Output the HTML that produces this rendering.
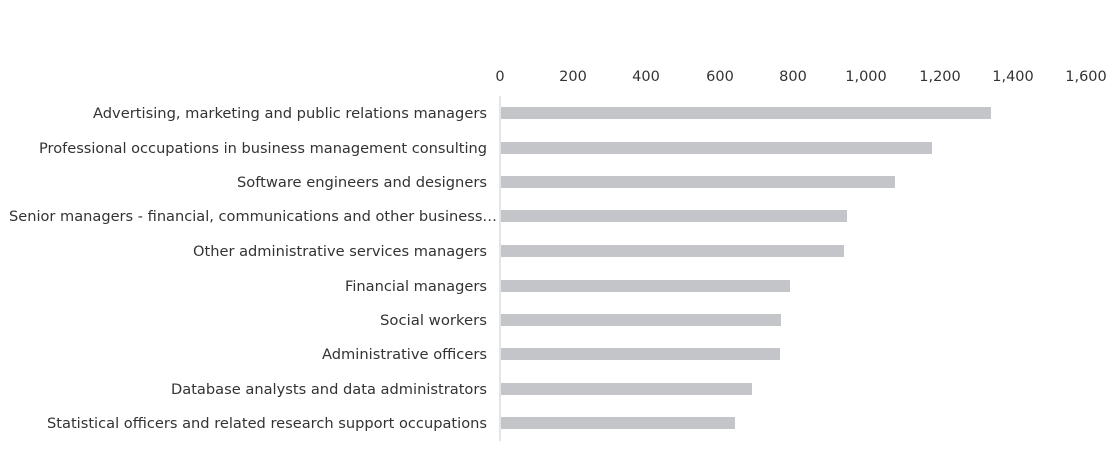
<!DOCTYPE html>
<html><head><meta charset="utf-8"><style>
body{margin:0;background:#fff}
svg text{font-family:"DejaVu Sans",Verdana,sans-serif;font-size:14.5px;fill:#333}
</style></head><body>
<svg width="1119" height="449" xmlns="http://www.w3.org/2000/svg">
<g text-anchor="middle">
<text x="500" y="81">0</text><text x="573" y="81">200</text><text x="646" y="81">400</text><text x="720" y="81">600</text><text x="793" y="81">800</text><text x="866" y="81">1,000</text><text x="940" y="81">1,200</text><text x="1013" y="81">1,400</text><text x="1086" y="81">1,600</text>
</g>
<line x1="500" y1="96" x2="500" y2="441" stroke="#d9dde0" stroke-width="1.5"/>
<g fill="#c3c5c8">
<rect x="501" y="107" width="490" height="12"/>
<rect x="501" y="142" width="431" height="12"/>
<rect x="501" y="176" width="394" height="12"/>
<rect x="501" y="210" width="346" height="12"/>
<rect x="501" y="245" width="343" height="12"/>
<rect x="501" y="280" width="289" height="12"/>
<rect x="501" y="314" width="280" height="12"/>
<rect x="501" y="348" width="279" height="12"/>
<rect x="501" y="383" width="251" height="12"/>
<rect x="501" y="417" width="234" height="12"/>
</g>
<g text-anchor="end">
<text x="487" y="118" textLength="394" lengthAdjust="spacingAndGlyphs">Advertising, marketing and public relations managers</text>
<text x="487" y="153" textLength="448" lengthAdjust="spacingAndGlyphs">Professional occupations in business management consulting</text>
<text x="487" y="187" textLength="250" lengthAdjust="spacingAndGlyphs">Software engineers and designers</text>
<text x="497" y="221" textLength="488" lengthAdjust="spacingAndGlyphs">Senior managers - financial, communications and other business…</text>
<text x="487" y="256" textLength="294" lengthAdjust="spacingAndGlyphs">Other administrative services managers</text>
<text x="487" y="291" textLength="142" lengthAdjust="spacingAndGlyphs">Financial managers</text>
<text x="487" y="325" textLength="107" lengthAdjust="spacingAndGlyphs">Social workers</text>
<text x="487" y="359" textLength="165" lengthAdjust="spacingAndGlyphs">Administrative officers</text>
<text x="487" y="394" textLength="316" lengthAdjust="spacingAndGlyphs">Database analysts and data administrators</text>
<text x="487" y="428" textLength="440" lengthAdjust="spacingAndGlyphs">Statistical officers and related research support occupations</text>
</g>
</svg>
</body></html>
